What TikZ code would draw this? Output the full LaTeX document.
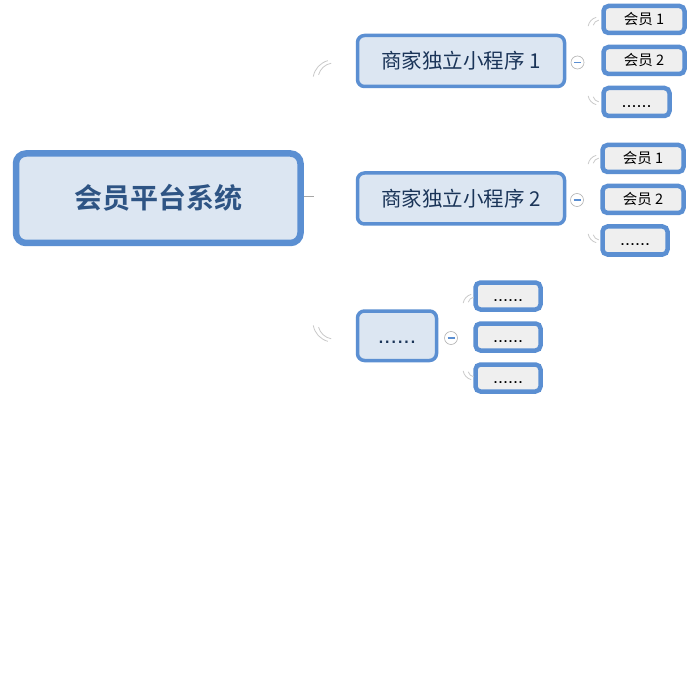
\documentclass[tikz,border=0pt]{standalone}
\usepackage{fontspec}
\newfontfamily\cjk{Noto Sans CJK SC}
\newfontfamily\cjkb{Noto Sans CJK SC Bold}
\newfontfamily\lsans{Liberation Sans}
\definecolor{bl}{HTML}{5B8FD2}
\definecolor{rootfill}{HTML}{DCE6F2}
\definecolor{gkfill}{HTML}{EFEFEF}
\definecolor{roottext}{HTML}{2E5484}
\definecolor{childtext}{HTML}{1A3458}
\definecolor{faint}{HTML}{C9C9C9}
\tikzset{
  x=1pt,y=1pt,
  rootbox/.style={draw=bl, line width=6.5pt, fill=rootfill, rounded corners=10pt,
    minimum width=284.5pt, minimum height=89.5pt, inner sep=0pt, text=roottext,
    font=\cjkb\fontsize{28}{28}\selectfont},
  childbox/.style={draw=bl, line width=3.5pt, fill=rootfill, rounded corners=7pt,
    minimum height=51pt, inner sep=0pt, text=childtext,
    font=\cjk\fontsize{20.5}{20.5}\selectfont},
  gkbox/.style={draw=bl, line width=4.5pt, fill=gkfill, rounded corners=5pt,
    minimum height=27pt, inner sep=0pt, text=black,
    font=\cjk\fontsize{14.5}{14.5}\selectfont},
  toggle/.style={circle, draw=gray!60, line width=0.6pt, fill=white, minimum size=13pt, inner sep=0pt},
  stub/.style={draw=faint, line width=0.8pt},
}
\newcommand\gkdots{\vphantom{会员}{\lsans\fontsize{18}{18}\selectfont......}}
\newcommand\chdots{\vphantom{商家}{\lsans\fontsize{23}{23}\selectfont......}}
\newcommand\arcpairUL[3]{% center x, center y(image), outer radius
  \draw[stub] ([shift={(105:#3)}]#1,-#2) arc[start angle=105, end angle=170, radius=#3];
  \draw[stub] ([shift={(100:#3-4)}]#1+1,-#2+1) arc[start angle=100, end angle=165, radius=#3-4];
}
\newcommand\arcpairLL[3]{%
  \draw[stub] ([shift={(190:#3)}]#1,-#2) arc[start angle=190, end angle=255, radius=#3];
  \draw[stub] ([shift={(195:#3-4)}]#1+1,-#2-1) arc[start angle=195, end angle=260, radius=#3-4];
}
\newcommand\togminus[1]{\draw[bl, line width=1.3pt] ([xshift=-3.5pt]#1.center) -- ([xshift=3.5pt]#1.center);}
\begin{document}
\begin{tikzpicture}
\useasboundingbox (0,0) rectangle (700,-700);
\fill[white] (0,0) rectangle (700,-700);

% root
\node[rootbox] (root) at (158.25,-198.25) {会员平台系统};
\coordinate (rootstub) at (314,-196.8);
\draw[gray!70, line width=0.8pt] (root.east |- rootstub) -- (rootstub);

% children
\node[childbox, minimum width=207pt] (c1) at (461,-61) {商家独立小程序 1};
\node[childbox, minimum width=207pt] (c2) at (461,-198.5) {商家独立小程序 2};
\node[childbox, minimum width=79pt, minimum height=49.5pt] (c3) at (397,-335.75) {\chdots};

% grandchildren of c1
\node[gkbox, minimum width=81pt] (g11) at (644,-19.5) {会员 1};
\node[gkbox, minimum width=81pt] (g12) at (644,-60.5) {会员 2};
\node[gkbox, minimum width=66pt, minimum height=28pt] (g13) at (636.5,-102) {\gkdots};

% grandchildren of c2
\node[gkbox, minimum width=81pt] (g21) at (643,-158.5) {会员 1};
\node[gkbox, minimum width=81pt] (g22) at (643,-199.5) {会员 2};
\node[gkbox, minimum width=65pt, minimum height=28pt] (g23) at (635,-240.5) {\gkdots};

% grandchildren of c3
\node[gkbox, minimum width=65pt] (g31) at (508,-296) {\gkdots};
\node[gkbox, minimum width=65pt] (g32) at (508,-337) {\gkdots};
\node[gkbox, minimum width=65pt] (g33) at (508,-378) {\gkdots};

% collapse toggles
\node[toggle] (t1) at (577.5,-62.5) {}; \togminus{t1}
\node[toggle] (t2) at (577,-200) {}; \togminus{t2}
\node[toggle] (t3) at (451,-338) {}; \togminus{t3}

% faint connector stubs
\arcpairUL{333}{80}{20}
\arcpairLL{333}{322}{20}
\arcpairUL{599}{28}{11}
\arcpairLL{599}{94}{11}
\arcpairUL{599}{166}{11}
\arcpairLL{599}{232}{11}
\arcpairUL{474}{305}{11}
\arcpairLL{474}{369}{11}
\end{tikzpicture}
\end{document}
